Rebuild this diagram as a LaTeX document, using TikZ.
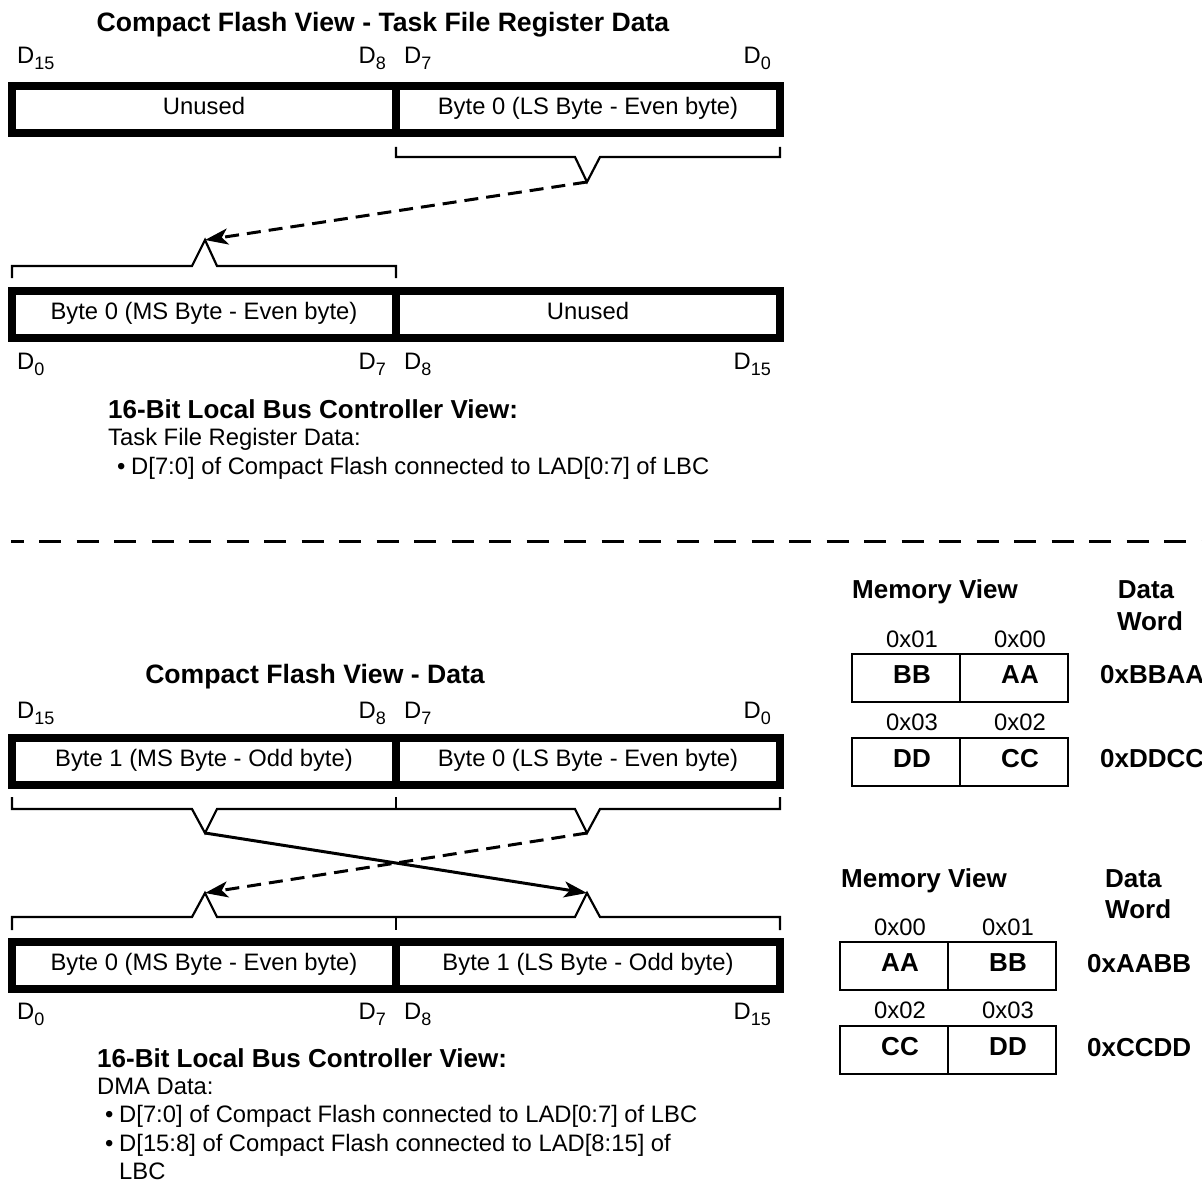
\documentclass[tikz,border=0pt]{standalone}
\usepackage{fontspec}
\setmainfont{Liberation Sans}
\usetikzlibrary{arrows.meta}

% text sizes (1 unit = 1pt)
\newcommand\regfont{\fontsize{23.8}{28}\selectfont}
\newcommand\boldfont{\fontsize{26}{30}\selectfont\bfseries}
\newcommand\titlefont{\fontsize{26.6}{30}\selectfont\bfseries}
% bit label with lowered index, e.g. D_15
\newcommand\Dbit[1]{D\raisebox{-6pt}{\fontsize{18}{18}\selectfont #1}}

\begin{document}
\begin{tikzpicture}[x=1pt,y=-1pt,
  regbox/.style={draw, line width=8pt, minimum width=384pt, minimum height=47.5pt,
    inner sep=0pt, text height=16pt, text depth=6pt, font=\regfont},
  bitlbl/.style={font=\regfont, inner sep=0pt},
  bracket/.style={line width=2.2pt, line join=miter},
  dasharrow/.style={line width=3pt, dash pattern=on 14pt off 8pt,
    -{Stealth[length=23pt,width=16pt,inset=6pt]}},
  solidarrow/.style={line width=3pt, -{Stealth[length=23pt,width=16pt,inset=6pt]}},
  sepline/.style={line width=3pt, dash pattern=on 22pt off 15.5pt, dash phase=9.5pt},
  heading/.style={font=\boldfont, inner sep=0pt, anchor=base west},
  bodytxt/.style={font=\regfont, inner sep=0pt, anchor=base west},
  bulletmark/.style={font=\regfont, inner sep=0pt, anchor=base west},
  title/.style={font=\titlefont, inner sep=0pt, anchor=base},
  cell/.style={draw, line width=2.5pt, minimum width=108pt, minimum height=48pt,
    inner sep=0pt, text height=19pt, text depth=9pt, font=\boldfont},
  addr/.style={font=\regfont, inner sep=0pt, anchor=base},
  word/.style={font=\boldfont, inner sep=0pt, anchor=base west}
]
\useasboundingbox (0,0) rectangle (1202,1188);

% ---------------- Task file register data ----------------
\node[title] (title1) at (383,32) {Compact Flash View - Task File Register Data};

\node[bitlbl, anchor=base west] (a15) at (17,64) {\Dbit{15}};
\node[bitlbl, anchor=base east] (a8)  at (386,64) {\Dbit{8}};
\node[bitlbl, anchor=base west] (a7)  at (404,64) {\Dbit{7}};
\node[bitlbl, anchor=base east] (a0)  at (771,64) {\Dbit{0}};

\node[regbox] (cfhi) at (204,109.75) {Unused};
\node[regbox] (cflo) at (588,109.75) {Byte 0 (LS Byte - Even byte)};

\coordinate (va) at (587,182);
\coordinate (pa) at (205,240);
\draw[bracket] (396,147) |- (575,157) -- (va) -- (600,157) -| (780,147);
\draw[bracket] (12,278) |- (192,266) -- (pa) -- (217,266) -| (396,278);
\draw[dasharrow] (va) -- (pa);

\node[regbox] (lbclo) at (204,314.5) {Byte 0 (MS Byte - Even byte)};
\node[regbox] (lbchi) at (588,314.5) {Unused};

\node[bitlbl, anchor=base west] (b0)  at (17,369) {\Dbit{0}};
\node[bitlbl, anchor=base east] (b7)  at (386,369) {\Dbit{7}};
\node[bitlbl, anchor=base west] (b8)  at (404,369) {\Dbit{8}};
\node[bitlbl, anchor=base east] (b15) at (771,369) {\Dbit{15}};

\node[heading] (h1) at (108,418) {16-Bit Local Bus Controller View:};
\node[bodytxt] (s1) at (108,445) {Task File Register Data:};
\node[bulletmark] (s1m) at (117,474) {\textbullet};
\node[bodytxt] (s1a) at (131,474) {D[7:0] of Compact Flash connected to LAD[0:7] of LBC};

% section divider
\draw[sepline] (11,541) -- (1202,541);

% ---------------- DMA data ----------------
\node[title] (title2) at (315,683) {Compact Flash View - Data};

\node[bitlbl, anchor=base west] (c15) at (17,718) {\Dbit{15}};
\node[bitlbl, anchor=base east] (c8)  at (386,718) {\Dbit{8}};
\node[bitlbl, anchor=base west] (c7)  at (404,718) {\Dbit{7}};
\node[bitlbl, anchor=base east] (c0)  at (771,718) {\Dbit{0}};

\node[regbox] (dhi) at (204,761.5) {Byte 1 (MS Byte - Odd byte)};
\node[regbox] (dlo) at (588,761.5) {Byte 0 (LS Byte - Even byte)};

\coordinate (vb) at (205,833);
\coordinate (vc) at (587,833);
\coordinate (pb) at (205,893);
\coordinate (pc) at (587,893);
\draw[bracket] (12,797) |- (192,809) -- (vb) -- (217,809) -- (575,809) -- (vc) -- (600,809) -| (780,797);
\draw[bracket] (396,797) -- (396,809);
\draw[bracket] (12,930) |- (192,917) -- (pb) -- (217,917) -- (575,917) -- (pc) -- (600,917) -| (780,930);
\draw[bracket] (396,917) -- (396,930);
\draw[solidarrow] (vb) -- (pc);
\draw[dasharrow] (vc) -- (pb);

\node[regbox] (elo) at (204,965.5) {Byte 0 (MS Byte - Even byte)};
\node[regbox] (ehi) at (588,965.5) {Byte 1 (LS Byte - Odd byte)};

\node[bitlbl, anchor=base west] (e0)  at (17,1019) {\Dbit{0}};
\node[bitlbl, anchor=base east] (e7)  at (386,1019) {\Dbit{7}};
\node[bitlbl, anchor=base west] (e8)  at (404,1019) {\Dbit{8}};
\node[bitlbl, anchor=base east] (e15) at (771,1019) {\Dbit{15}};

\node[heading] (h2) at (97,1067) {16-Bit Local Bus Controller View:};
\node[bodytxt] (s2) at (97,1094) {DMA Data:};
\node[bulletmark] (s2m) at (105,1122) {\textbullet};
\node[bodytxt] (s2a) at (119,1122) {D[7:0] of Compact Flash connected to LAD[0:7] of LBC};
\node[bulletmark] (s2n) at (105,1151) {\textbullet};
\node[bodytxt] (s2b) at (119,1151) {D[15:8] of Compact Flash connected to LAD[8:15] of};
\node[bodytxt] (s2c) at (119,1179) {LBC};

% ---------------- memory views ----------------
\node[heading] (mv1) at (852,598) {Memory View};
\node[word, anchor=base] (dw1) at (1146,598) {Data};
\node[word, anchor=base] (dw1b) at (1150,630) {Word};
\node[addr] (ad01) at (912,647) {0x01};
\node[addr] (ad00) at (1020,647) {0x00};
\node[cell] (mBB) at (906,678) {\hspace*{12pt}BB};
\node[cell] (mAA) at (1014,678) {\hspace*{12pt}AA};
\node[word] (w1) at (1100,683) {0xBBAA};
\node[addr] (ad03) at (912,730) {0x03};
\node[addr] (ad02) at (1020,730) {0x02};
\node[cell] (mDD) at (906,762) {\hspace*{12pt}DD};
\node[cell] (mCC) at (1014,762) {\hspace*{12pt}CC};
\node[word] (w2) at (1100,767) {0xDDCC};

\node[heading] (mv2) at (841,887) {Memory View};
\node[word] (dw2) at (1105,887) {Data};
\node[word] (dw2b) at (1105,918) {Word};
\node[addr] (bd00) at (900,935) {0x00};
\node[addr] (bd01) at (1008,935) {0x01};
\node[cell] (nAA) at (894,966) {\hspace*{12pt}AA};
\node[cell] (nBB) at (1002,966) {\hspace*{12pt}BB};
\node[word] (w3) at (1087,972) {0xAABB};
\node[addr] (bd02) at (900,1018) {0x02};
\node[addr] (bd03) at (1008,1018) {0x03};
\node[cell] (nCC) at (894,1050) {\hspace*{12pt}CC};
\node[cell] (nDD) at (1002,1050) {\hspace*{12pt}DD};
\node[word] (w4) at (1087,1056) {0xCCDD};
\end{tikzpicture}
\end{document}
